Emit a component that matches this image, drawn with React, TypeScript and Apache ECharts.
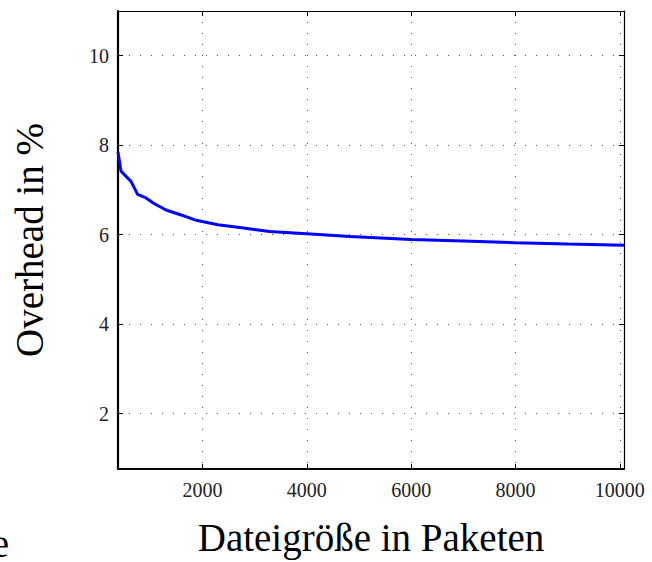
import React, { useEffect, useRef } from "react";
import * as echarts from "echarts";

const fileSizes = [380, 437, 629, 756, 917, 1077, 1302, 1590, 1879, 2294, 2712, 3288, 3994, 4827, 6000, 7000, 8000, 9000, 10080];
const overheadPct = [7.85, 7.42, 7.19, 6.9, 6.82, 6.69, 6.55, 6.44, 6.32, 6.22, 6.16, 6.07, 6.02, 5.96, 5.89, 5.86, 5.82, 5.79, 5.76];
const xTicks = [2000, 4000, 6000, 8000, 10000];
const yTicks = [2, 4, 6, 8, 10];
const xTitle = "Dateigröße in Paketen";
const yTitle = "Overhead in %";

const FONT = "Liberation Serif";

export default function App() {
  const ref = useRef<HTMLDivElement>(null);
  useEffect(() => {
    if (!ref.current) return;
    const chart = echarts.init(ref.current, undefined, { renderer: "svg" });
    const dotted = { type: [1, 10] as any, color: "#555", width: 1 };
    const tickStyle = { show: true, inside: true, length: 5, lineStyle: { color: "#000", width: 1 } };
    const plain = (v: number) => String(v);
    chart.setOption({
      animation: false,
      backgroundColor: "#fff",
      grid: { left: 118, right: 28, top: 11, bottom: 88, containLabel: false },
      xAxis: [
        {
          type: "value",
          min: 380,
          max: 10080,
          position: "bottom",
          name: xTitle,
          nameLocation: "middle",
          nameGap: 49,
          nameTextStyle: { fontFamily: FONT, fontSize: 39, color: "#000" },
          axisLine: { show: true, onZero: false, lineStyle: { color: "#000", width: 2.2 } },
          axisTick: { ...tickStyle, customValues: xTicks },
          axisLabel: { customValues: xTicks, formatter: plain, fontFamily: FONT, fontSize: 20, color: "#222", margin: 11 },
          splitLine: { show: true, lineStyle: dotted },
        },
        {
          type: "value",
          min: 380,
          max: 10080,
          position: "top",
          axisLine: { show: true, onZero: false, lineStyle: { color: "#000", width: 1.2 } },
          axisTick: { ...tickStyle, customValues: xTicks },
          axisLabel: { show: false },
          splitLine: { show: false },
        },
      ],
      yAxis: [
        {
          type: "value",
          min: 0.76,
          max: 11,
          position: "left",
          name: yTitle,
          nameLocation: "middle",
          nameGap: 69,
          nameTextStyle: { fontFamily: FONT, fontSize: 39, color: "#000" },
          axisLine: { show: true, onZero: false, lineStyle: { color: "#000", width: 2.2 } },
          axisTick: { ...tickStyle, customValues: yTicks },
          axisLabel: { customValues: yTicks, formatter: plain, fontFamily: FONT, fontSize: 20, color: "#222", margin: 9 },
          splitLine: { show: true, lineStyle: dotted },
        },
        {
          type: "value",
          min: 0.76,
          max: 11,
          position: "right",
          axisLine: { show: true, onZero: false, lineStyle: { color: "#000", width: 1.2 } },
          axisTick: { ...tickStyle, customValues: yTicks },
          axisLabel: { show: false },
          splitLine: { show: false },
        },
      ],
      graphic: [
        {
          type: "text",
          x: 9,
          y: 543,
          style: {
            text: "e",
            fontFamily: FONT,
            fontSize: 39,
            fill: "#000",
            textAlign: "right",
            textVerticalAlign: "middle",
          },
        },
      ],
      series: [
        {
          type: "line",
          xAxisIndex: 0,
          yAxisIndex: 0,
          data: fileSizes.map((s, i) => [s, overheadPct[i]]),
          showSymbol: false,
          symbol: "none",
          lineStyle: { color: "#0000ff", width: 3 },
          z: 5,
        },
      ],
    });
    return () => chart.dispose();
  }, []);
  return (
    <div
      ref={ref}
      style={{ position: "fixed", left: 0, top: 0, width: 652, height: 562 }}
    />
  );
}
